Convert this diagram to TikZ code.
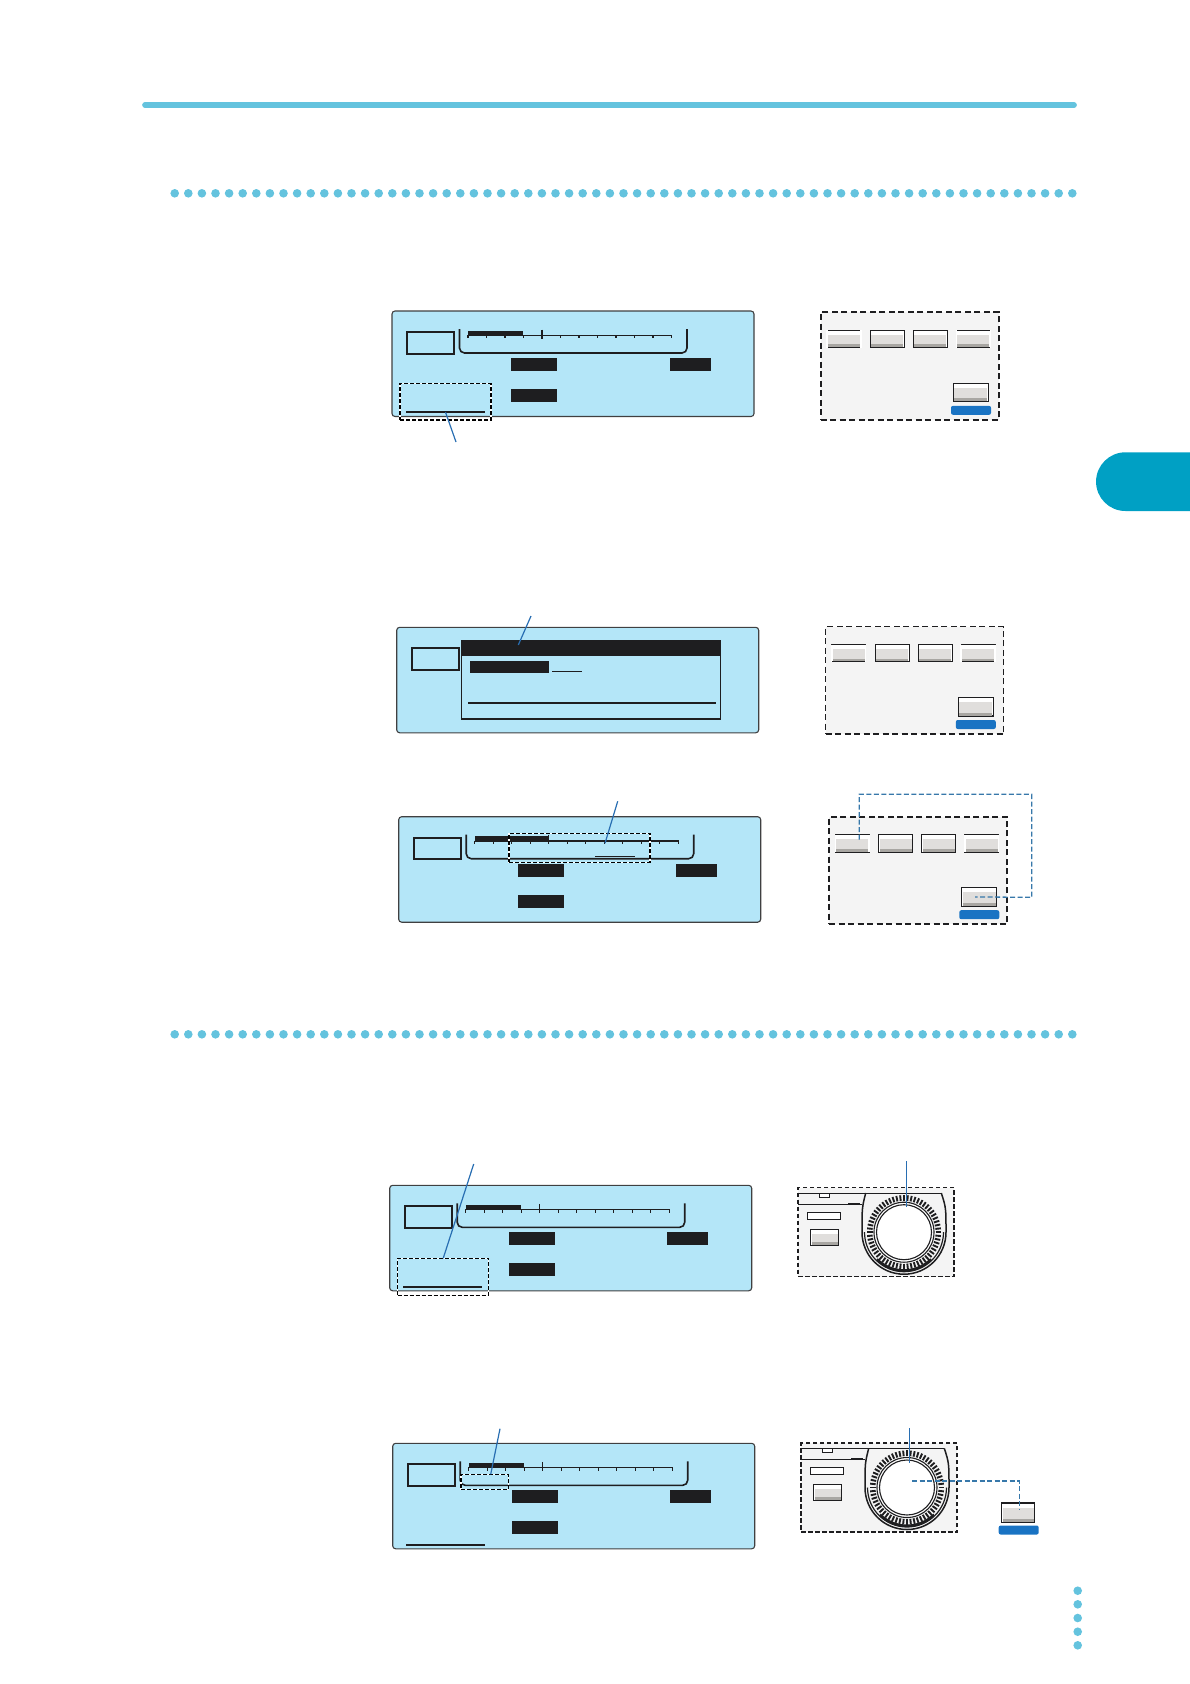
\documentclass[tikz,border=0pt]{standalone}
\definecolor{rulecyan}{RGB}{100,195,222}
\definecolor{tabcyan}{RGB}{0,160,196}
\definecolor{lcdblue}{RGB}{180,230,248}
\definecolor{inkdark}{RGB}{30,30,32}
\definecolor{leadblue}{RGB}{40,110,178}
\definecolor{linkblue}{RGB}{55,120,170}
\definecolor{pillblue}{RGB}{25,115,195}
\definecolor{padgray}{RGB}{244,244,244}
\definecolor{keylight}{RGB}{224,222,220}
\definecolor{keydark}{RGB}{168,166,162}
\tikzset{
  box/.style={rectangle, anchor=north west, inner sep=0pt, outer sep=0pt},
  lcdpanel/.style={box, draw=inkdark!85, fill=lcdblue, line width=1.1pt, rounded corners=3pt, minimum width=362pt, minimum height=105.5pt},
  modebox/.style={box, draw=inkdark, line width=1.8pt, minimum width=47pt, minimum height=21.6pt},
  blackbar/.style={box, fill=inkdark},
  hairbar/.style={box, fill=inkdark, minimum height=2pt},
  bracket/.style={draw=inkdark, line width=1.6pt, rounded corners=5pt},
  areabox/.style={box, draw=black, line width=1.2pt, dash pattern=on 4pt off 2pt, preaction={draw=white, solid}},
  padbox/.style={box, draw=inkdark, fill=padgray, line width=1.8pt, dash pattern=on 6pt off 3.5pt, minimum width=178pt, minimum height=107.5pt},
  dialbox/.style={box, draw=inkdark, fill=padgray, line width=1.4pt, dash pattern=on 4.5pt off 2.5pt, minimum width=156pt, minimum height=89pt},
  keybtn/.style={box, draw=inkdark, fill=white, line width=1.1pt},
  pill/.style={box, fill=pillblue, rounded corners=2pt, minimum width=40pt, minimum height=9pt},
  leader/.style={draw=leadblue, line width=1.2pt},
  link/.style={draw=linkblue, line width=1.3pt, dash pattern=on 5pt off 2.5pt},
  wheel/.style={circle, draw=inkdark, fill=white, inner sep=0pt, outer sep=0pt, line width=1.1pt},
}
\newcommand{\dotrow}[1]{\foreach \i in {0,...,66} \fill[rulecyan] ({174.7+13.6*\i},#1) circle [radius=4.3];}
\newcommand{\keyface}[4]{
  \node[keybtn, minimum width=#3pt, minimum height=#4pt] (#1) at #2 {};
  \fill[keylight] ($(#1.north west)+(1,4.7)$) rectangle ($(#1.south east)+(-1,-3.4)$);
  \fill[keydark] ($(#1.south west)+(1,-3.4)$) rectangle ($(#1.south east)+(-1,-0.5)$);
}
\newcommand{\keyopen}[1]{
  \draw[white, line width=1.3pt] (#1.north west) -- (#1.south west);
  \draw[white, line width=1.3pt] (#1.north east) -- (#1.south east);
}
\newcommand{\lcdbase}[1]{
  \node[lcdpanel] (#1) at (0,0) {};
  \node[modebox] (#1mode) at (15,21) {};
}
\newcommand{\lcdscale}[2]{
  \draw[bracket] (67.5,18) |- (295,42) -- (295,18);
  \node[blackbar, minimum width=#2pt, minimum height=4.5pt] (#1bar) at (76,19.5) {};
  \node[hairbar, minimum width=204pt, minimum height=1.2pt] (#1axis) at (76,23.7) {};
  \foreach \i in {0,...,11} \draw[inkdark, line width=1.1pt] ({76+18.5*\i},24) -- ++(0,3.4);
  \draw[inkdark, line width=1.4pt] (150,18.5) -- (150,27.5);
  \node[blackbar, minimum width=46pt, minimum height=13pt] (#1rea) at (119,47) {};
  \node[blackbar, minimum width=41pt, minimum height=13pt] (#1reb) at (277.5,47) {};
  \node[blackbar, minimum width=46pt, minimum height=13pt] (#1rec) at (119,78) {};
}
\newcommand{\keypad}[1]{
  \node[padbox] (#1) at (0,0) {};
  \keyface{#1a}{(6.3,18)}{34}{17.4}
  \keyface{#1b}{(49.6,18)}{34}{17.4}
  \keyface{#1c}{(92.6,18)}{34}{17.4}
  \keyface{#1d}{(135.6,18)}{34}{17.4}
  \keyopen{#1a}
  \keyopen{#1d}
  \keyface{#1e}{(132.6,71)}{35}{18.5}
  \node[pill] (#1pill) at (130.3,93.5) {};
}
\newcommand{\dialpad}[1]{
  \node[dialbox] (#1) at (0,0) {};
  \draw[inkdark, line width=1pt] (0,5.3) -- (143.3,5.3);
  \node[keybtn, line width=0.8pt, minimum width=10.4pt, minimum height=4.3pt] (#1tab) at (21.3,5.3) {};
  \draw[inkdark, line width=1.1pt] (0,16.6) -- (63.7,16.6);
  \draw[inkdark, line width=2pt] (50,16.2) -- (62,16.2);
  \node[box, draw=inkdark, fill=white, line width=0.9pt, minimum width=33.4pt, minimum height=7pt] (#1lamp) at (9.3,24.6) {};
  \keyface{#1key}{(12.7,41.6)}{28}{16}
  \draw[inkdark, line width=1.5pt] (67.7,5.3) .. controls (64,20) .. (64,44.5) arc[start angle=180,end angle=0,radius=42] .. controls (148,20) .. (143.3,5.3);
  \draw[inkdark, line width=1.2pt] (66.5,44.5) arc[start angle=180,end angle=0,radius=39.5];
  \draw[inkdark, line width=2.4pt] (106,44.5) ++(135:38.2) arc[start angle=135,end angle=45,radius=38.2];
  \foreach \a in {0,6,...,354} \draw[inkdark, line width=1.9pt] (106,44.5) ++(\a:31.5) -- ++(\a:5.6);
  \node[wheel, minimum size=60pt] (#1rim) at (106,44.5) {};
  \node[wheel, minimum size=55pt] (#1wheel) at (106,44.5) {};
}

\usetikzlibrary{calc}
\begin{document}
\begin{tikzpicture}[x=1pt,y=-1pt]
\useasboundingbox (0,0) rectangle (1190,1684);
\draw[rulecyan, line width=5.7pt, line cap=round] (145,105) -- (1074,105);
\dotrow{193.3}
\dotrow{1034.3}
\fill[tabcyan] (1190,452.3) -- (1125.4,452.3) arc[start angle=270,end angle=90,radius=29.35] -- (1190,511) -- cycle;
\foreach \y in {1590.7,1604.3,1618,1631.7,1645.3} \fill[rulecyan] (1077.7,\y) circle [radius=4.3];

\begin{scope}[shift={(392,311)}]
\lcdbase{lcda}
\lcdscale{lcda}{55.3}
\node[hairbar, minimum width=79pt] (lcdaunder) at (14,100.2) {};
\node[areabox, minimum width=91pt, minimum height=36.3pt] (lcdaarea) at (8,72.7) {};
\coordinate (lcdafree) at (64,131);
\draw[leader] (lcdafree) -- (lcdaunder.center);
\end{scope}

\begin{scope}[shift={(820.7,312.3)}]
\keypad{pada}
\end{scope}

\begin{scope}[shift={(396.7,627.3)}]
\lcdbase{lcdb}
\node[box, draw=inkdark, line width=1.4pt, minimum width=259.4pt, minimum height=78.7pt] (lcdbdlg) at (64.6,13) {};
\node[blackbar, minimum width=259.4pt, minimum height=15.4pt] (lcdbtitle) at (64.6,13) {};
\node[blackbar, minimum width=79pt, minimum height=11.7pt] (lcdbitem) at (73.3,33.7) {};
\node[hairbar, minimum width=30pt, minimum height=1.2pt] (lcdbtick) at (155.3,43.5) {};
\node[hairbar, minimum width=248pt] (lcdbrule) at (71.3,74.8) {};
\coordinate (lcdbend) at (121.6,17.7);
\coordinate (lcdbfree) at (134.3,-11.3);
\draw[leader] (lcdbfree) -- (lcdbend);
\end{scope}

\begin{scope}[shift={(825.5,626.5)}]
\keypad{padb}
\end{scope}

\begin{scope}[shift={(398.7,816.7)}]
\lcdbase{lcdc}
\lcdscale{lcdc}{74.4}
\node[hairbar, minimum width=40pt, minimum height=1.2pt] (lcdcmark) at (196.3,39.5) {};
\node[areabox, minimum width=141pt, minimum height=28.6pt] (lcdcarea) at (110.3,17) {};
\coordinate (lcdcend) at (206.3,26.6);
\coordinate (lcdcfree) at (219,-15.4);
\draw[leader] (lcdcfree) -- (lcdcend);
\end{scope}

\begin{scope}[shift={(829,816.7)}]
\keypad{padc}
\end{scope}
\coordinate (padcout) at (1031.7,794.3);
\coordinate (padcback) at (1031.7,897.3);
\draw[link] ($(padca.north)+(7,5)$) |- (padcout) -- (padcback) -- ($(padce.center)+(-4,0)$);

\begin{scope}[shift={(389.7,1185.3)}]
\lcdbase{lcdd}
\lcdscale{lcdd}{55.3}
\node[hairbar, minimum width=79pt] (lcddunder) at (13.3,100.4) {};
\node[areabox, minimum width=91pt, minimum height=37pt] (lcddarea) at (8,73) {};
\coordinate (lcddfree) at (84,-21.3);
\draw[leader] (lcddfree) -- (lcddarea.north);
\end{scope}

\begin{scope}[shift={(798,1187.7)}]
\dialpad{diala}
\coordinate (dialaend) at (108.7,19.6);
\coordinate (dialafree) at (108.7,-26.7);
\draw[leader] (dialafree) -- (dialaend);
\end{scope}

\begin{scope}[shift={(392.7,1443.3)}]
\lcdbase{lcde}
\lcdscale{lcde}{55.3}
\node[hairbar, minimum width=79pt] (lcdeunder) at (13.3,101) {};
\node[areabox, minimum width=47.7pt, minimum height=15pt] (lcdearea) at (68.3,31) {};
\coordinate (lcdeend) at (98,31);
\coordinate (lcdefree) at (107.3,-14.6);
\draw[leader] (lcdefree) -- (lcdeend);
\end{scope}

\begin{scope}[shift={(801,1443)}]
\dialpad{dialb}
\coordinate (dialbend) at (108.3,20.3);
\coordinate (dialbfree) at (108.3,-14.7);
\draw[leader] (dialbfree) -- (dialbend);
\end{scope}
\keyface{solokey}{(1001.7,1503)}{33}{19.5}
\node[pill] (solopill) at (998.7,1525.5) {};
\coordinate (dialbout) at (912,1481);
\draw[link] (dialbout) -| ($(solokey.center)+(1.2,-3)$);
\end{tikzpicture}
\end{document}
